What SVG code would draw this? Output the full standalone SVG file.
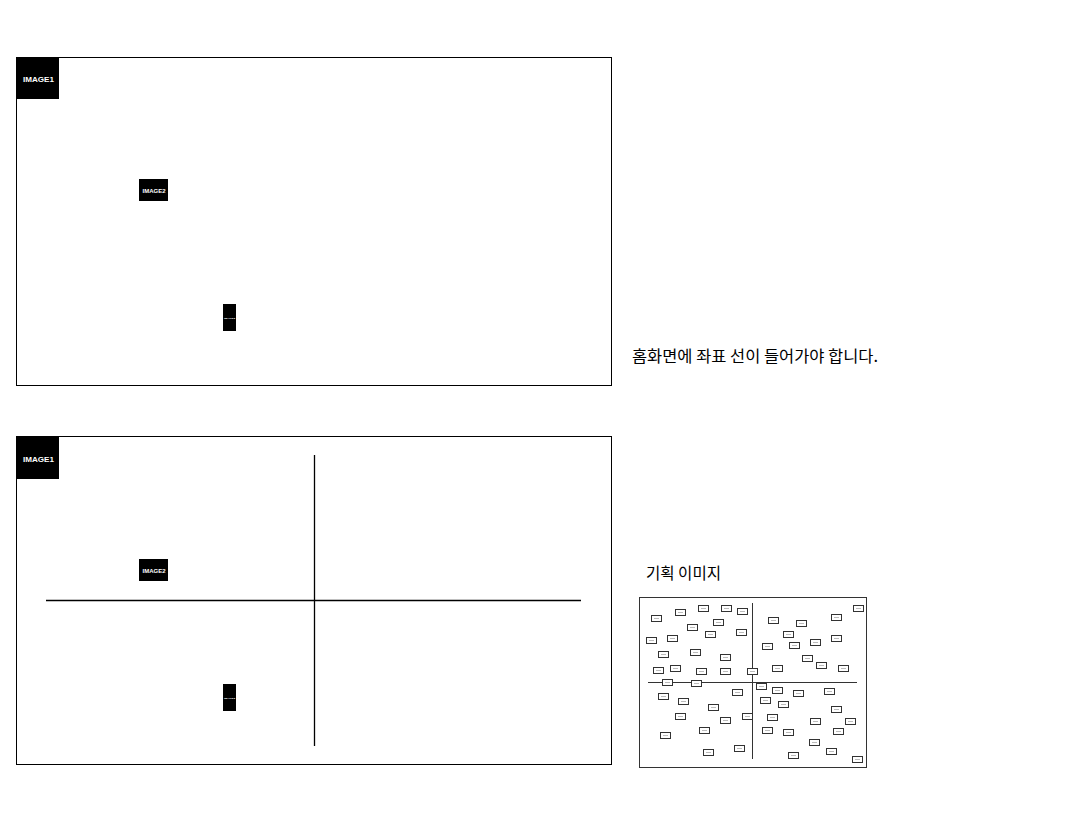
<svg xmlns="http://www.w3.org/2000/svg" width="1092" height="819" viewBox="0 0 1092 819">
<defs>
<style>
.frame{fill:#fff;stroke:#000;stroke-width:1}
.img{fill:#000}
.lbl{fill:#fff;font-family:"Liberation Sans","DejaVu Sans",sans-serif;font-weight:bold}
.axis{stroke:#000;stroke-width:1.3;fill:none}
.kr{fill:#000;font-family:"Noto Sans CJK KR","Noto Sans",sans-serif}
.mini{fill:#fff;stroke:#333;stroke-width:1}
.minitxt{fill:#bbb}
.pbox{fill:#fff;stroke:#333;stroke-width:1}
</style>
<g id="m">
<rect class="mini" x="0.5" y="0.5" width="10" height="6"/>
<rect class="minitxt" x="3" y="3" width="5" height="1"/>
</g>
</defs>
<rect width="1092" height="819" fill="#fff"/>

<g id="screen-top">
<rect class="frame" x="16.5" y="57.5" width="595" height="328"/>
<g id="top-image1"><rect class="img" x="17" y="57" width="42" height="42"/><text class="lbl" x="23" y="82" font-size="8" textLength="31" lengthAdjust="spacingAndGlyphs">IMAGE1</text></g>
<g id="top-image2"><rect class="img" x="139" y="179" width="29" height="22"/><text class="lbl" x="142.5" y="192.5" font-size="6" textLength="23" lengthAdjust="spacingAndGlyphs">IMAGE2</text></g>
<g id="top-image3"><rect class="img" x="223" y="304" width="13" height="27"/><text class="lbl" x="224" y="319" font-size="2.5" textLength="11" lengthAdjust="spacingAndGlyphs" fill="#ccc">IMAGE3</text></g>
</g>

<g id="screen-bottom">
<rect class="frame" x="16.5" y="436.5" width="595" height="328"/>
<g id="bottom-image1"><rect class="img" x="17" y="437" width="42" height="42"/><text class="lbl" x="23" y="462" font-size="8" textLength="31" lengthAdjust="spacingAndGlyphs">IMAGE1</text></g>
<g id="bottom-image2"><rect class="img" x="139" y="559" width="29" height="22"/><text class="lbl" x="142.5" y="572.5" font-size="6" textLength="23" lengthAdjust="spacingAndGlyphs">IMAGE2</text></g>
<g id="bottom-image3"><rect class="img" x="223" y="684" width="13" height="27"/><text class="lbl" x="224" y="699" font-size="2.5" textLength="11" lengthAdjust="spacingAndGlyphs" fill="#ccc">IMAGE3</text></g>
<g id="bottom-axes">
<line class="axis" x1="314.5" y1="455" x2="314.5" y2="746"/>
<line class="axis" x1="46" y1="600.5" x2="581" y2="600.5"/>
</g>
</g>

<g id="note">
<text class="kr" x="632" y="362" font-size="16" textLength="246" lengthAdjust="spacingAndGlyphs">홈화면에 좌표 선이 들어가야 합니다.</text>
</g>

<g id="plan">
<text class="kr" x="646" y="579" font-size="16" textLength="75" lengthAdjust="spacingAndGlyphs">기획 이미지</text>
<rect class="pbox" x="639.5" y="597.5" width="227" height="170"/>
<line stroke="#333" stroke-width="1" x1="752.5" y1="603" x2="752.5" y2="759"/>
<line stroke="#333" stroke-width="1" x1="648" y1="682.5" x2="857" y2="682.5"/>
<g id="plan-items">
<use href="#m" x="651" y="615"/><use href="#m" x="675" y="609"/><use href="#m" x="698" y="605"/><use href="#m" x="721" y="605"/><use href="#m" x="737" y="608"/>
<use href="#m" x="687" y="624"/><use href="#m" x="713" y="619"/><use href="#m" x="705" y="631"/><use href="#m" x="736" y="629"/><use href="#m" x="646" y="637"/>
<use href="#m" x="667" y="635"/><use href="#m" x="658" y="651"/><use href="#m" x="690" y="649"/><use href="#m" x="720" y="654"/><use href="#m" x="653" y="667"/>
<use href="#m" x="670" y="665"/><use href="#m" x="696" y="668"/><use href="#m" x="720" y="668"/><use href="#m" x="747" y="668"/><use href="#m" x="662" y="679"/>
<use href="#m" x="691" y="680"/>
<use href="#m" x="853" y="605"/><use href="#m" x="768" y="617"/><use href="#m" x="796" y="620"/><use href="#m" x="831" y="614"/><use href="#m" x="783" y="631"/>
<use href="#m" x="762" y="643"/><use href="#m" x="789" y="642"/><use href="#m" x="810" y="639"/><use href="#m" x="831" y="635"/><use href="#m" x="802" y="655"/>
<use href="#m" x="816" y="662"/><use href="#m" x="838" y="665"/><use href="#m" x="772" y="665"/>
<use href="#m" x="756" y="683"/><use href="#m" x="658" y="693"/><use href="#m" x="678" y="698"/><use href="#m" x="732" y="689"/><use href="#m" x="708" y="704"/>
<use href="#m" x="675" y="713"/><use href="#m" x="720" y="717"/><use href="#m" x="742" y="713"/><use href="#m" x="660" y="732"/><use href="#m" x="699" y="727"/>
<use href="#m" x="703" y="749"/><use href="#m" x="734" y="745"/>
<use href="#m" x="772" y="687"/><use href="#m" x="793" y="690"/><use href="#m" x="824" y="688"/><use href="#m" x="760" y="697"/><use href="#m" x="778" y="701"/>
<use href="#m" x="831" y="706"/><use href="#m" x="767" y="714"/><use href="#m" x="810" y="718"/><use href="#m" x="845" y="718"/><use href="#m" x="762" y="727"/>
<use href="#m" x="783" y="729"/><use href="#m" x="833" y="728"/><use href="#m" x="809" y="739"/><use href="#m" x="826" y="748"/><use href="#m" x="788" y="752"/>
<use href="#m" x="852" y="756"/>
</g>
</g>
</svg>
